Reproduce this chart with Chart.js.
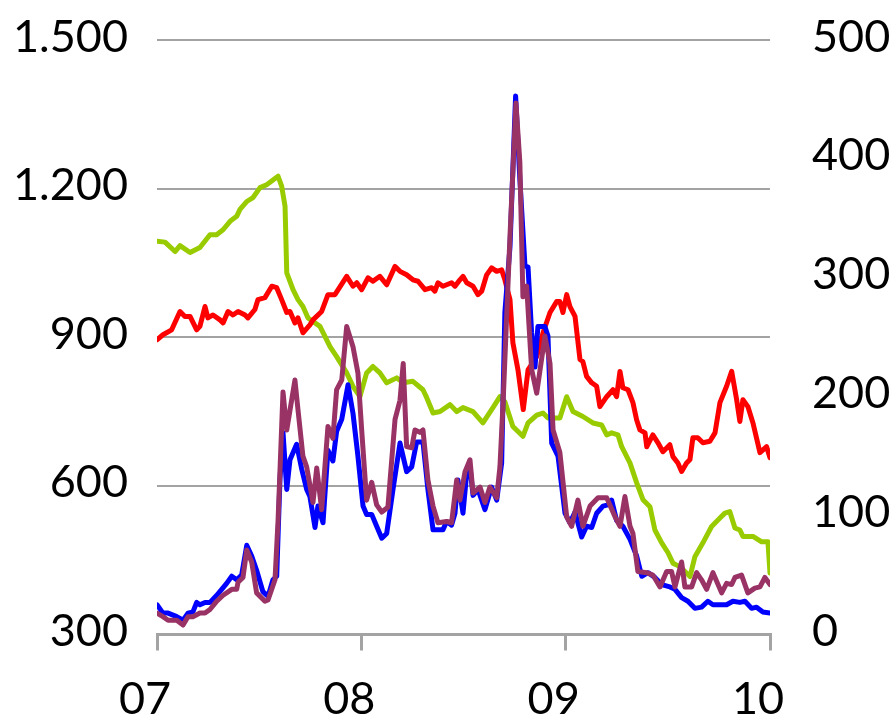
<!DOCTYPE html>
<html>
<head>
<meta charset="utf-8">
<script src="https://cdn.jsdelivr.net/npm/chart.js@4.4.1/dist/chart.umd.min.js"></script>
<style>
  html, body { margin: 0; padding: 0; background: #fff; }
  #wrap { position: relative; width: 892px; height: 720px; }
</style>
</head>
<body>
<div id="wrap"><canvas id="chart" width="892" height="720"></canvas></div>
<script>
// months since Jan 2007 (x) and values, left axis (300-1500)
const redMonths = [0,0.35,0.86,1.35,1.64,1.94,2.33,2.52,2.82,2.99,3.29,3.7,3.88,4.17,4.46,4.76,5.17,5.34,5.75,5.93,6.34,6.74,7.03,7.32,7.62,7.81,8.1,8.28,8.57,8.98,9.16,9.67,10.04,10.45,11.14,11.51,11.73,12.02,12.39,12.68,13.09,13.49,13.98,14.27,14.66,15.03,15.33,15.74,16.13,16.32,16.5,16.79,17.3,17.5,17.79,17.97,18.19,18.56,18.85,19.07,19.36,19.65,19.95,20.24,20.43,20.73,20.9,21.2,21.51,21.79,22.3,22.67,23.08,23.47,23.66,23.84,24.06,24.25,24.55,24.84,25.01,25.23,25.53,25.82,26.01,26.41,26.78,26.99,27.19,27.36,27.66,27.95,28.17,28.36,28.66,28.76,29.12,29.42,29.71,30.12,30.3,30.59,30.81,31.1,31.3,31.47,31.76,32.06,32.47,32.77,33.06,33.45,33.75,34.04,34.23,34.41,34.7,35,35.41,35.8,36];
const redValues = [895,905,915,952,942,942,915,922,962,939,945,935,929,952,945,952,945,939,956,976,980,1003,1000,976,950,952,929,939,909,925,935,952,986,986,1023,1003,1010,996,1020,1013,1023,1006,1043,1033,1026,1016,1013,996,1000,993,1010,1003,1010,1003,1016,1023,1010,1003,986,993,1026,1040,1033,1036,1016,976,889,834,754,834,861,909,950,972,972,950,986,962,942,855,851,821,808,801,760,780,794,780,831,798,794,768,733,713,707,679,703,687,669,683,659,646,629,646,653,697,697,687,690,707,768,801,831,774,730,774,760,727,667,679,657];

const greenMonths = [0,0.47,1.06,1.35,1.94,2.52,3.11,3.5,3.88,4.29,4.68,4.87,5.27,5.64,6.05,6.44,7.11,7.32,7.52,7.62,7.99,8.28,8.57,8.87,9.57,10.16,10.55,11.14,11.51,11.92,12.31,12.68,13.09,13.49,14.08,14.45,15.03,15.62,15.84,16.21,16.62,17.21,17.6,17.97,18.56,19.14,19.73,20.14,20.43,20.9,21.49,21.79,22.3,22.67,22.96,23.66,24.06,24.43,25.01,25.6,26.11,26.41,26.7,27.07,27.29,27.78,28.17,28.54,28.95,29.24,29.64,30.01,30.3,30.71,31.3,31.59,32.06,32.57,33.06,33.35,33.64,33.94,34.23,34.41,35,35.51,35.88,36];
const greenValues = [1094,1092,1073,1085,1071,1081,1107,1107,1117,1134,1144,1158,1174,1182,1202,1208,1225,1205,1164,1030,996,976,962,939,922,881,861,828,801,780,828,841,828,808,818,808,811,794,778,747,750,764,750,758,750,727,758,780,770,720,700,727,743,747,737,737,780,750,740,727,723,703,707,703,679,646,606,572,558,511,485,465,444,437,417,457,485,518,535,545,548,515,511,498,498,487,487,424];

// right axis (0-500)
const blueMonths = [0,0.35,0.65,1.16,1.53,1.82,2.11,2.33,2.52,2.82,3.11,3.51,3.8,4.09,4.39,4.68,4.97,5.27,5.56,5.85,6.22,6.52,6.81,7.03,7.22,7.4,7.62,7.81,8.2,8.5,8.79,8.98,9.28,9.45,9.75,10.04,10.33,10.55,10.85,11.22,11.51,11.8,12.1,12.31,12.61,12.9,13.2,13.49,13.86,14.27,14.66,14.96,15.25,15.62,15.91,16.21,16.5,16.79,17.01,17.3,17.5,17.67,17.97,18.19,18.38,18.56,18.85,19.26,19.65,19.95,20.24,20.43,20.73,21.06,21.31,21.61,21.79,22,22.2,22.37,22.78,22.96,23.18,23.55,23.96,24.25,24.55,24.94,25.23,25.53,25.82,26.19,26.48,26.7,26.99,27.36,27.78,28.17,28.47,28.83,29.24,29.64,30.12,30.42,30.81,31.18,31.59,31.98,32.35,32.65,33.06,33.45,33.82,34.23,34.53,34.92,35.21,35.58,36];
const blueValues = [25,18,18,15,12,18,19,27,25,27,27,33,38,43,49,46,50,75,66,54,36,32,46,49,130,170,122,147,160,139,122,116,90,108,94,155,146,171,181,210,186,150,108,101,101,91,81,85,122,161,137,141,162,162,122,88,88,88,95,92,102,130,102,136,141,117,122,105,124,113,144,271,326,453,383,310,309,254,225,259,259,251,161,150,102,94,103,82,91,90,102,108,109,113,96,91,80,66,49,52,48,42,40,38,31,28,22,23,28,25,25,25,28,27,28,22,23,19,18];

const purpleMonths = [0,0.35,0.65,1.16,1.53,1.82,2.11,2.52,2.82,3.11,3.51,3.88,4.39,4.68,4.76,5.05,5.27,5.56,5.85,6.34,6.52,6.93,7.11,7.4,7.62,8.1,8.28,8.57,8.79,9.16,9.38,9.67,10.04,10.33,10.55,10.85,11.14,11.51,11.8,12.02,12.31,12.61,12.9,13.2,13.56,13.98,14.27,14.46,14.66,14.96,15.15,15.44,15.62,15.91,16.21,16.5,17.01,17.3,17.6,17.79,18.09,18.38,18.56,18.97,19.26,19.55,19.95,20.14,20.33,20.73,21.08,21.31,21.49,21.71,22,22.3,22.78,23.08,23.26,23.66,24.06,24.35,24.72,25.01,25.43,25.9,26.41,26.9,27.19,27.48,27.78,27.95,28.24,28.76,29.12,29.54,29.93,30.22,30.42,30.81,31,31.4,31.69,31.98,32.28,32.65,33.16,33.45,33.75,33.94,34.33,34.7,35.11,35.41,35.7,36];
const purpleValues = [18,15,12,12,8,15,15,18,18,21,28,33,38,38,44,48,71,61,35,28,29,46,96,204,172,214,189,150,141,111,140,105,175,165,206,214,259,242,220,172,113,128,109,103,107,181,197,228,158,157,172,170,172,130,108,94,95,94,130,113,137,147,119,124,111,124,115,141,197,335,447,397,284,293,223,203,251,228,172,153,99,91,113,91,108,115,115,99,91,116,91,85,53,52,50,40,53,53,40,61,40,40,52,46,38,52,35,43,42,48,50,35,39,40,48,42];

const xTickLabels = ['07', '08', '09', '10'];
const leftTickValues = [300, 600, 900, 1200, 1500];
const leftTickLabels = ['300', '600', '900', '1.200', '1.500'];
const rightTickValues = [0, 100, 200, 300, 400, 500];
const rightTickLabels = ['0', '100', '200', '300', '400', '500'];

const GRID = '#a3a3a3';
const FONT = { family: 'Lato', size: 45 };

function toPoints(xs, ys) {
    return xs.map(function(x, i) { return { x: x, y: ys[i] }; });
}

function lineSet(xs, ys, color, axis) {
    return {
        data: toPoints(xs, ys),
        borderColor: color,
        borderWidth: 5,
        pointRadius: 0,
        tension: 0,
        fill: false,
        borderJoinStyle: 'round',
        borderCapStyle: 'round',
        yAxisID: axis
    };
}

// fixed axis width, and no label overflow padding so the plot top stays at the layout padding
function fixWidth(w) {
    return function(s) {
        s.width = w;
        s.paddingTop = 0;
        s.paddingBottom = 0;
    };
}

new Chart(document.getElementById('chart'), {
    type: 'line',
    data: {
        datasets: [
            lineSet(purpleMonths, purpleValues, '#993366', 'yR'),
            lineSet(blueMonths, blueValues, '#0000ff', 'yR'),
            lineSet(redMonths, redValues, '#ff0000', 'yL'),
            lineSet(greenMonths, greenValues, '#99cc00', 'yL')
        ]
    },
    options: {
        responsive: false,
        animation: false,
        layout: { padding: { top: 40, left: 0, right: 0, bottom: 0 } },
        plugins: { legend: { display: false }, tooltip: { enabled: false } },
        scales: {
            x: {
                type: 'linear',
                min: 0,
                max: 36,
                afterBuildTicks: function(s) { s.ticks = [0, 12, 24, 36].map(function(v) { return { value: v }; }); },
                afterFit: function(s) { s.height = 85.5; s.paddingLeft = 0; s.paddingRight = 0; },
                ticks: {
                    color: '#000',
                    font: FONT,
                    padding: 22,
                    labelOffset: -12,
                    maxRotation: 0,
                    autoSkip: false,
                    callback: function(v) { return xTickLabels[Math.round(v / 12)]; }
                },
                grid: { drawOnChartArea: false, drawTicks: true, tickLength: 16, color: GRID, lineWidth: 3 },
                border: { display: true, color: GRID, width: 3 }
            },
            yL: {
                position: 'left',
                min: 300,
                max: 1500,
                afterBuildTicks: function(s) { s.ticks = leftTickValues.map(function(v) { return { value: v }; }); },
                afterFit: fixWidth(157),
                ticks: {
                    color: '#000',
                    font: FONT,
                    padding: 29,
                    labelOffset: -3,
                    callback: function(v) { return leftTickLabels[leftTickValues.indexOf(v)]; }
                },
                grid: { drawTicks: false, color: GRID, lineWidth: 2 },
                border: { display: false }
            },
            yR: {
                position: 'right',
                min: 0,
                max: 500,
                afterBuildTicks: function(s) { s.ticks = rightTickValues.map(function(v) { return { value: v }; }); },
                afterFit: fixWidth(122),
                ticks: {
                    color: '#000',
                    font: FONT,
                    padding: 42,
                    labelOffset: -3,
                    callback: function(v) { return rightTickLabels[rightTickValues.indexOf(v)]; }
                },
                grid: { display: false, drawTicks: false },
                border: { display: false }
            }
        }
    }
});
</script>
</body>
</html>
